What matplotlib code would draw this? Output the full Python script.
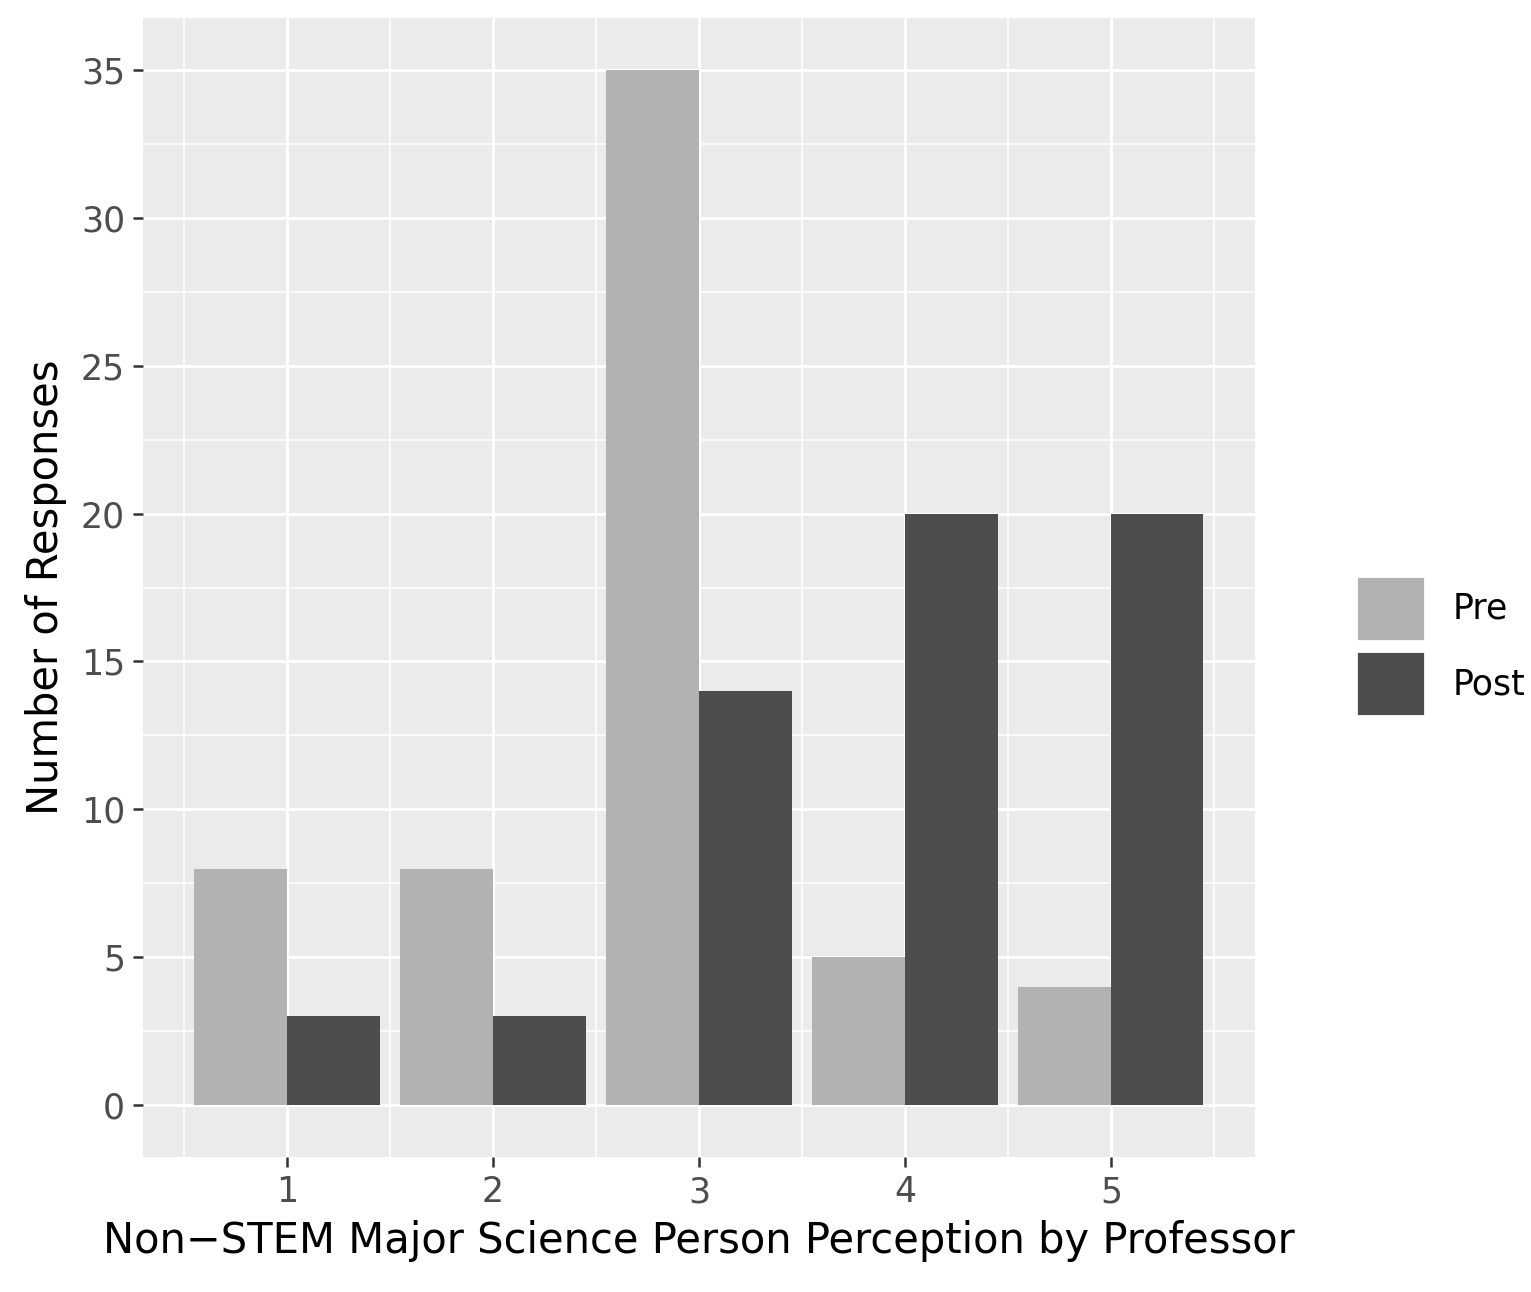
import matplotlib
matplotlib.use("Agg")
import matplotlib.pyplot as plt
import numpy as np
from matplotlib.patches import Patch

categories = ["1", "2", "3", "4", "5"]
pre = [8, 8, 35, 5, 4]
post = [3, 3, 14, 20, 20]
series_labels = ["Pre", "Post"]
colors = ["#B2B2B2", "#4D4D4D"]

fig = plt.figure(figsize=(15.31, 12.92), dpi=100)
ax = fig.add_axes([0.0934, 0.1045, 0.7263, 0.8815])
ax.set_facecolor("#EBEBEB")
x = np.arange(1, len(categories) + 1)
w = 0.45
ax.bar(x - w/2, pre, width=w, color=colors[0], zorder=3)
ax.bar(x + w/2, post, width=w, color=colors[1], zorder=3)
ax.set_xlim(0.4, 5.7)
ax.set_xlim(0.3, 5.7)
ax.set_ylim(-1.75, 36.75)
ax.set_xticks(x)
ax.set_xticklabels(categories)
ax.set_yticks(np.arange(0, 36, 5))
ax.set_xticks(np.arange(0.5, 6, 1), minor=True)
ax.set_yticks(np.arange(2.5, 36, 5), minor=True)
ax.grid(which="major", color="white", linewidth=2.2, zorder=0)
ax.grid(which="minor", color="white", linewidth=1.1, zorder=0)
ax.set_axisbelow(True)
for s in ax.spines.values():
    s.set_visible(False)
ax.tick_params(which="major", length=7, width=1.8, color="#333333", labelsize=25, labelcolor="#4D4D4D", pad=6)
ax.tick_params(which="minor", length=0)
ax.set_xlabel("Non\u2212STEM Major Science Person Perception by Professor", fontsize=30, labelpad=8)
ax.set_ylabel("Number of Responses", fontsize=30, labelpad=10)

handles = [Patch(facecolor=colors[0], edgecolor="white", linewidth=2),
           Patch(facecolor=colors[1], edgecolor="white", linewidth=2)]
fig.legend(handles, series_labels, loc="center left", bbox_to_anchor=(0.865, 0.5),
           frameon=False, fontsize=25, handlelength=2.0, handleheight=2.5,
           handletextpad=0.8, labelspacing=0.3)
fig.savefig("out.png", dpi=100)
